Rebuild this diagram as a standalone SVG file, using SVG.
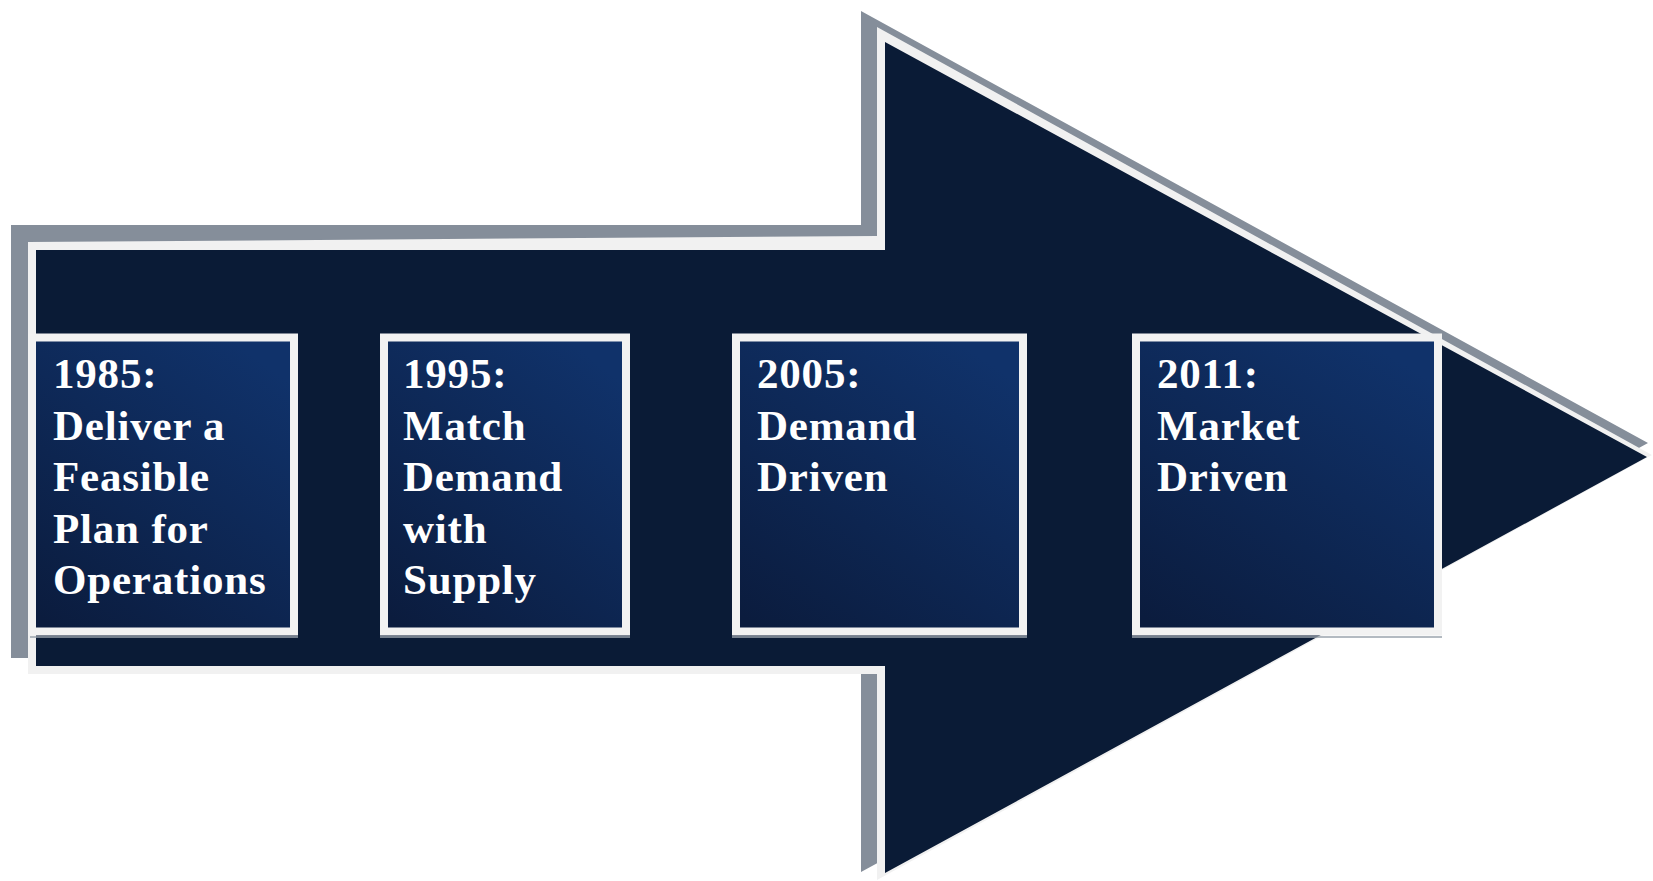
<svg xmlns="http://www.w3.org/2000/svg" width="1653" height="881" viewBox="0 0 1653 881">
  <defs>
    <linearGradient id="boxFill" x1="0.1" y1="1" x2="0.75" y2="0">
      <stop offset="0" stop-color="#0b1c3e"/>
      <stop offset="1" stop-color="#10326a"/>
    </linearGradient>
    <style>
      .shadow { fill: #858e9a; }
      .rim { fill: #f1f1f1; }
      .body { fill: #0a1b36; }
      .box { fill: url(#boxFill); stroke: #f2f2f2; stroke-width: 8; }
      .boxShade { fill: none; stroke: #9aa3ad; stroke-width: 1.5; }
      .label { font-family: "Liberation Serif", "Times New Roman", serif; font-weight: bold; font-size: 43px; letter-spacing: 0.8px; fill: #ffffff; }
    </style>
  </defs>

  <!-- big arrow: grey offset shadow, light rim, dark body -->
  <g id="arrow">
    <polygon class="shadow" points="11,225 861,225 861,11 1648,443 861,872 861,658 11,658"/>
    <polygon class="rim" points="28,242 877,236 877,27 1652,455 877,880 877,674 28,674"/>
    <polygon class="body" points="36,250 885,250 885,42 1647,457 885,873 885,666 36,666"/>
  </g>

  <g id="connectors"></g>

  <g id="step-1985">
    <line class="boxShade" x1="30" y1="637" x2="298" y2="637"/>
    <rect class="box" x="32" y="337.5" width="262" height="294"/>
    <text class="label" x="53" y="388">1985:</text>
    <text class="label" x="53" y="439.5">Deliver a</text>
    <text class="label" x="53" y="491">Feasible</text>
    <text class="label" x="53" y="542.5">Plan for</text>
    <text class="label" x="53" y="594">Operations</text>
  </g>

  <g id="step-1995">
    <line class="boxShade" x1="380" y1="637" x2="630" y2="637"/>
    <rect class="box" x="384" y="337.5" width="242" height="294"/>
    <text class="label" x="403" y="388">1995:</text>
    <text class="label" x="403" y="439.5">Match</text>
    <text class="label" x="403" y="491">Demand</text>
    <text class="label" x="403" y="542.5">with</text>
    <text class="label" x="403" y="594">Supply</text>
  </g>

  <g id="step-2005">
    <line class="boxShade" x1="732" y1="637" x2="1027" y2="637"/>
    <rect class="box" x="736" y="337.5" width="287" height="294"/>
    <text class="label" x="757" y="388">2005:</text>
    <text class="label" x="757" y="439.5">Demand</text>
    <text class="label" x="757" y="491">Driven</text>
  </g>

  <g id="step-2011">
    <line class="boxShade" x1="1132" y1="637" x2="1442" y2="637"/>
    <rect class="box" x="1136" y="337.5" width="302" height="294"/>
    <text class="label" x="1157" y="388">2011:</text>
    <text class="label" x="1157" y="439.5">Market</text>
    <text class="label" x="1157" y="491">Driven</text>
  </g>
</svg>
